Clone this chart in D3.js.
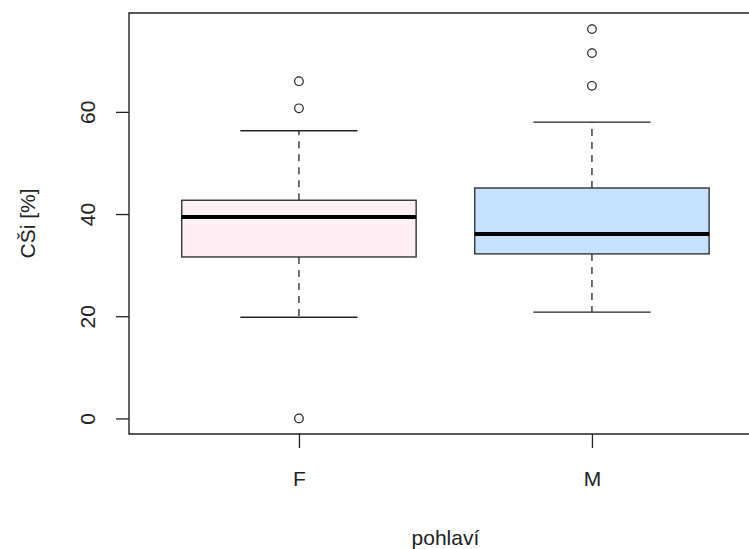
<!DOCTYPE html>
<html>
<head>
<meta charset="utf-8">
<script src="https://cdn.jsdelivr.net/npm/d3@7"></script>
<style>
  html, body { margin: 0; padding: 0; background: #fff; }
  svg { display: block; }
  text { font-family: "Liberation Sans", Arial, sans-serif; fill: #222; }
</style>
</head>
<body>
<svg id="chart" width="749" height="549"></svg>
<script>
// Groups and their box-plot statistics (CŠi in %)
const groups = ["F", "M"];
const lowerWhisker = [19.8, 20.8];
const q1 = [31.6, 32.2];
const median = [39.4, 36.1];
const q3 = [42.7, 45.1];
const upperWhisker = [56.3, 58.0];
const outliers = [[66.0, 60.7, 0.0], [76.2, 71.5, 65.1]];
const fills = ["#FFF0F5", "#C6E2FF"];
const yTicks = [0, 20, 40, 60];

const svg = d3.select("#chart");
const ink = "#222";
const fontSize = "21px";

// Plot region
const plotLeft = 129, plotTop = 13, plotBottom = 434;
const unit = 293; // pixels per group slot

// Scales: x in group index units, y in percent
const x = d3.scaleLinear().domain([0.42, 2.58]).range([plotLeft, plotLeft + 2.16 * unit]);
const y = d3.scaleLinear().domain([-3.05, 79.35]).range([plotBottom, plotTop]);
const plotRight = x(2.58);

// Y axis
const yAxis = d3.axisLeft(y).tickValues(yTicks).tickSize(13).tickPadding(0).tickFormat(d3.format("d"));
const gy = svg.append("g").attr("transform", `translate(${plotLeft},0)`).call(yAxis);
gy.select(".domain").remove();
gy.selectAll(".tick line").attr("stroke", ink).attr("stroke-width", 1.3);
gy.selectAll(".tick text")
  .attr("x", null).attr("dy", null)
  .attr("transform", "translate(-42,0) rotate(-90)")
  .attr("text-anchor", "middle")
  .attr("dominant-baseline", "central")
  .style("font-size", fontSize)
  .style("fill", ink);

// X axis
const xAxis = d3.axisBottom(x).tickValues([1, 2]).tickSize(14).tickPadding(0)
  .tickFormat((d) => groups[d - 1]);
const gx = svg.append("g").attr("transform", `translate(0,${plotBottom})`).call(xAxis);
gx.select(".domain").remove();
gx.selectAll(".tick line").attr("stroke", ink).attr("stroke-width", 1.3);
gx.selectAll(".tick text")
  .attr("y", 44).attr("dy", null)
  .attr("dominant-baseline", "central")
  .style("font-size", fontSize)
  .style("fill", ink);

// Frame around the plot region
svg.append("path")
  .attr("d", `M${plotLeft},${plotTop}H${plotRight}V${plotBottom}H${plotLeft}Z`)
  .attr("fill", "none").attr("stroke", ink).attr("stroke-width", 1.4);

// Boxes
const halfBox = 0.4, halfCap = 0.2;
const g = svg.append("g");
groups.forEach((name, i) => {
  const c = i + 1;
  const cx = x(c);
  // dashed whiskers
  g.append("line").attr("x1", cx).attr("x2", cx)
    .attr("y1", y(q3[i])).attr("y2", y(upperWhisker[i]))
    .attr("stroke", ink).attr("stroke-width", 1.3).attr("stroke-dasharray", "7,6");
  g.append("line").attr("x1", cx).attr("x2", cx)
    .attr("y1", y(q1[i])).attr("y2", y(lowerWhisker[i]))
    .attr("stroke", ink).attr("stroke-width", 1.3).attr("stroke-dasharray", "7,6");
  // caps
  [upperWhisker[i], lowerWhisker[i]].forEach((v) => {
    g.append("line").attr("x1", x(c - halfCap)).attr("x2", x(c + halfCap))
      .attr("y1", y(v)).attr("y2", y(v))
      .attr("stroke", ink).attr("stroke-width", 1.4);
  });
  // box
  g.append("rect")
    .attr("x", x(c - halfBox)).attr("width", x(c + halfBox) - x(c - halfBox))
    .attr("y", y(q3[i])).attr("height", y(q1[i]) - y(q3[i]))
    .attr("fill", fills[i]).attr("stroke", "#333").attr("stroke-width", 1.4);
  // median
  g.append("line").attr("x1", x(c - halfBox)).attr("x2", x(c + halfBox))
    .attr("y1", y(median[i])).attr("y2", y(median[i]))
    .attr("stroke", "#000").attr("stroke-width", 4);
  // outliers
  outliers[i].forEach((v) => {
    g.append("circle").attr("cx", cx).attr("cy", y(v)).attr("r", 4.3)
      .attr("fill", "none").attr("stroke", ink).attr("stroke-width", 1.2);
  });
});

// Axis titles
svg.append("text")
  .attr("x", x(1.5)).attr("y", 537)
  .attr("text-anchor", "middle").attr("dominant-baseline", "central")
  .style("font-size", fontSize).style("fill", ink)
  .text("pohlaví");
svg.append("text")
  .attr("transform", `translate(27,${(plotTop + plotBottom) / 2}) rotate(-90)`)
  .attr("text-anchor", "middle").attr("dominant-baseline", "central")
  .style("font-size", fontSize).style("fill", ink)
  .text("CŠi [%]");
</script>
</body>
</html>
